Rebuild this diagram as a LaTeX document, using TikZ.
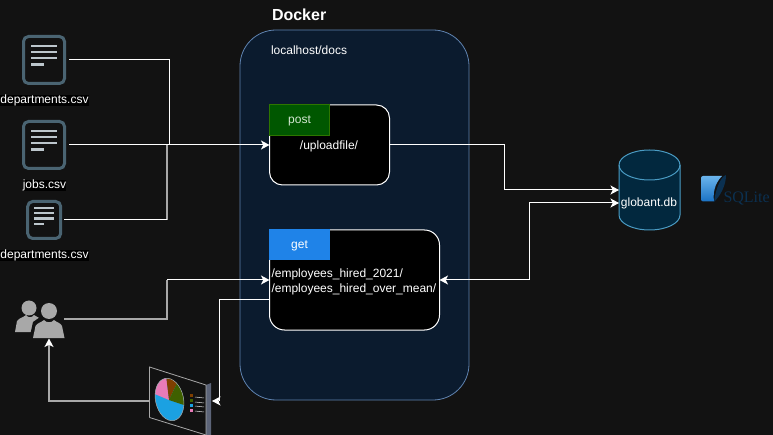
\documentclass[tikz,border=0pt]{standalone}
\usepackage{fontspec}
\setmainfont{Liberation Sans}
\newfontfamily\serifsq{Liberation Serif}
\usetikzlibrary{shapes.geometric,arrows.meta,calc}
\definecolor{bgc}{HTML}{121212}
\definecolor{docfill}{HTML}{0B1B2E}
\definecolor{docline}{HTML}{5F83B0}
\definecolor{iconline}{HTML}{4A6472}
\definecolor{iconbar}{HTML}{BCC6CC}
\definecolor{greyline}{HTML}{A8A8A8}
\definecolor{dbfill}{HTML}{02283E}
\definecolor{dbline}{HTML}{4A9CC4}
\definecolor{postfill}{HTML}{005700}
\definecolor{postline}{HTML}{2D7600}
\definecolor{posttext}{HTML}{D5E8D4}
\definecolor{getfill}{HTML}{1F83E8}
\definecolor{pieblue}{HTML}{1BA1E2}
\definecolor{piepink}{HTML}{E87BB8}
\definecolor{piebrown}{HTML}{7F3F00}
\definecolor{piegreen}{HTML}{3F6000}
\definecolor{strip}{HTML}{5C6478}
\definecolor{sqdark}{HTML}{0B3050}
\definecolor{sqlight}{HTML}{6AB4EC}
\definecolor{sqmid}{HTML}{1A72C4}
\tikzset{
  x=1pt,y=-1pt,
  every node/.style={font=\fontsize{12}{14}\selectfont,text=white,inner sep=0pt,outer sep=0pt},
  tipa/.tip={Stealth[length=8.5pt,width=9pt,inset=2.2pt,color=white,fill=white]},
  conn/.style={draw=white,line width=1pt},
  connarrow/.style={conn,-tipa},
  grey/.style={draw=greyline,line width=1.2pt},
  api/.style={draw=white,fill=black,line width=1pt,rectangle},
  tab/.style={rectangle,minimum width=60.5pt,text height=11pt,text depth=2.4pt},
  lbl/.style={fill=black,text=white},
  doc/.style={draw=iconline,line width=3pt,rounded corners=5pt,rectangle},
  bar/.style={draw=iconbar,line width=2.4pt},
}
\newcommand{\docicon}[7]{%
  \node[doc,minimum width=#2pt,minimum height=#3pt] (#1) at (#4,#5) {};
  \foreach \k in {0,1,2} \draw[bar] ($(#1.center)+(-#6,#7*\k-#7*2.3)$) -- ($(#1.center)+(#6,#7*\k-#7*2.3)$);
  \draw[bar] ($(#1.center)+(-#6,#7*0.72)$) -- ($(#1.center)+(0.0,#7*0.72)$);
}
\begin{document}
\begin{tikzpicture}
\path[fill=bgc,use as bounding box] (0,0) rectangle (773,435);
% container
\node[draw=docline,fill=docfill,line width=0.8pt,rounded corners=36pt,minimum width=229pt,minimum height=370pt] (docker) at (354.5,215) {};
\node[font=\bfseries\fontsize{16}{18}\selectfont,anchor=base west] (dockertitle) at (272,21) {Docker};
\node[anchor=base west] (docs) at (271,55) {localhost/docs};
% api boxes
\node[api,rounded corners=13pt,minimum width=120pt,minimum height=80pt] (post) at (329.5,145) {};
\node[api,rounded corners=15pt,minimum width=170pt,minimum height=100pt] (get) at (354.5,280) {};
\node[tab,minimum height=31pt,fill=postfill,draw=postline,line width=0.7pt,text=posttext] (posttab) at (299.5,119.5) {post};
\node[tab,minimum height=31pt,fill=getfill] (gettab) at (299.5,244.5) {get};
\node[anchor=base] (upload) at (329,150) {/uploadfile/};
\node[anchor=base west] (e1) at (271.5,277.5) {/employees\_hired\_2021/};
\node[anchor=base west] (e2) at (271.5,292.5) {/employees\_hired\_over\_mean/};
% documents
\docicon{d1}{41}{47}{44}{60}{13}{6.2}
\docicon{d2}{41}{47}{44}{145}{13}{6.2}
\docicon{d3}{33}{37}{44.2}{220}{10}{5.2}
\node[lbl,anchor=base] (l1) at (44.5,104) {departments.csv};
\node[lbl,anchor=base] (l2) at (44.5,189) {jobs.csv};
\node[lbl,anchor=base] (l3) at (44.5,259) {departments.csv};
% db
\node[minimum width=61pt,minimum height=80pt] (db) at (649.5,190) {};
\draw[dbline,fill=dbfill,line width=1pt] (619,165) arc[start angle=180,end angle=0,x radius=30.5,y radius=-15] -- (680,215) arc[start angle=0,end angle=-180,x radius=30.5,y radius=-15] -- cycle;
\draw[dbline,line width=1pt] (619,165) arc[start angle=180,end angle=360,x radius=30.5,y radius=-15];
\node[anchor=base] (dbtext) at (649,207) {globant.db};
% sqlite
\shade[top color=sqlight,bottom color=sqmid] (703,176) -- (722,176) .. controls (714,184) and (713,194) .. (714,201.5) -- (703,201.5) .. controls (701.5,201.5) and (701,200) .. (701,199) -- (701,178) .. controls (701,177) and (702,176) .. (703,176) -- cycle;
\fill[sqdark] (726,175) .. controls (722,176) and (716,186) .. (714,202) .. controls (720,196) and (726,186) .. (726,175) -- cycle;
\node[anchor=base west,font=\serifsq\fontsize{16}{16}\selectfont,text=sqdark] (sqlite) at (723.5,203) {SQLite};
% users
\fill[greyline] (15,332) -- (17,321) .. controls (19,318) and (24,317) .. (26,315) .. controls (28,318) and (32,318) .. (34,315) .. controls (37,317) and (42,319) .. (42,321) -- (44,332) -- cycle;
\fill[greyline] (29,308) circle[radius=7.5];
\fill[bgc] (49,311) circle[radius=10];
\fill[bgc] (29,340) -- (33,322) -- (43,315) -- (55,315) -- (66,322) -- (66,340) -- cycle;
\fill[greyline] (33,338) -- (35.5,326) .. controls (37,323) and (42,322) .. (44,320) .. controls (46,323) and (52,323) .. (54,320) .. controls (56,322) and (61,323) .. (62,326) -- (64.5,338) -- cycle;
\fill[greyline] (49,311) circle[radius=8];
\coordinate (usersr) at (64,319);
\coordinate (userb) at (49,338.5);
% dashboard
\fill[bgc] (149.5,367) -- (211,384) -- (211,436) -- (149.5,418) -- cycle;
\fill[strip] (206,385) -- (211,383) -- (211,436) -- (206,436) -- cycle;
\draw[greyline,line width=0.8pt] (149.5,417.5) -- (149.5,367) -- (206,385) -- (206,436);
\draw[greyline,line width=0.8pt] (149.5,417.5) -- (206,435);
\begin{scope}
\clip[rotate around={12:(169.5,399.5)}] (169.5,399.5) circle[x radius=14,y radius=21.5];
\fill[pieblue] (150,375) rectangle (190,425);
\fill[piepink] (169,400) -- (150,392) -- (150,375) -- (166,375) -- cycle;
\fill[piebrown] (169,400) -- (166,375) -- (181,375) -- (178,381) -- cycle;
\fill[piegreen] (169,400) -- (178,381) -- (181,375) -- (190,375) -- (190,407) -- cycle;
\end{scope}
\draw[greyline,line width=0.5pt,rotate around={12:(169.5,399.5)}] (169.5,399.5) circle[x radius=14,y radius=21.5];
\fill[piebrown] (190,394) rectangle (193,397);
\fill[piegreen] (190,399) rectangle (193,402);
\fill[pieblue] (190,404) rectangle (193,407);
\fill[piepink] (190,409) rectangle (193,412);
\foreach \y in {397,402,406,411} \draw[white!85!black,line width=0.5pt] (195,\y) -- (204,\y+1);
\coordinate (dashl) at (149,401);
\coordinate (dashr) at (212,401);
% connectors
\coordinate (db1) at (619,190);
\coordinate (db2) at (619,203);
\draw[conn] ($(d1.east)+(4.5,0)$) -| (169,145);
\draw[connarrow] ($(d2.east)+(4.5,0)$) -- (post.west);
\draw[grey] (167,220) -- (167,145);
\draw[conn] ($(d3.east)+(3.5,0)$) -- (167,220);
\draw[grey] (usersr) -| (167,280);
\draw[connarrow] (167,280) -- (get.west);
\draw[conn] ($(get.west)+(0,20)$) -| (219,401);
\draw[connarrow] (219,401) -- (dashr);
\draw[grey,-tipa] (dashl) -| (userb);
\draw[connarrow] (post.east) -| (504,190) -- (db1);
\draw[conn,tipa-tipa] (get.east) -| (529,203) -- (db2);
\end{tikzpicture}
\end{document}
